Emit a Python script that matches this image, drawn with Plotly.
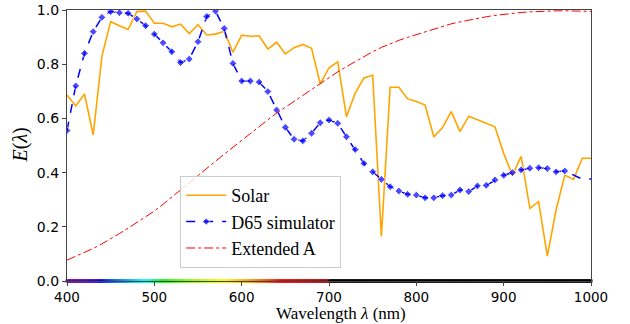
import plotly.graph_objects as go

wavelength = list(range(400, 1001, 10))

solar = [0.686, 0.646, 0.690, 0.539, 0.830, 0.957, 0.942, 0.928, 0.994, 0.996,
         0.951, 0.951, 0.938, 0.948, 0.913, 0.946, 0.908, 0.911, 0.922, 0.844,
         0.907, 0.903, 0.905, 0.856, 0.881, 0.838, 0.861, 0.873, 0.859, 0.727,
         0.787, 0.809, 0.606, 0.693, 0.749, 0.759, 0.164, 0.715, 0.715, 0.672,
         0.662, 0.649, 0.532, 0.566, 0.625, 0.551, 0.608, 0.595, 0.580, 0.569,
         0.471, 0.390, 0.460, 0.268, 0.293, 0.092, 0.262, 0.391, 0.375, 0.453,
         0.453]

d65_sim = [0.555, 0.720, 0.840, 0.920, 0.973, 0.994, 0.990, 0.988, 0.967, 0.942,
           0.911, 0.879, 0.846, 0.806, 0.819, 0.883, 0.976, 0.996, 0.932, 0.803,
           0.738, 0.738, 0.734, 0.699, 0.631, 0.567, 0.523, 0.517, 0.545, 0.584,
           0.594, 0.582, 0.532, 0.485, 0.434, 0.403, 0.375, 0.348, 0.332, 0.320,
           0.317, 0.307, 0.307, 0.315, 0.317, 0.336, 0.330, 0.351, 0.353, 0.373,
           0.390, 0.400, 0.410, 0.416, 0.418, 0.415, 0.403, 0.406, 0.390, 0.376,
           0.376]

ext_a = [0.077, 0.091, 0.105, 0.120, 0.137, 0.155, 0.175, 0.195, 0.215, 0.235,
         0.258, 0.283, 0.310, 0.336, 0.362, 0.388, 0.415, 0.442, 0.468, 0.494,
         0.520, 0.546, 0.571, 0.595, 0.619, 0.641, 0.661, 0.682, 0.705, 0.727,
         0.750, 0.772, 0.791, 0.810, 0.828, 0.846, 0.862, 0.876, 0.888, 0.899,
         0.909, 0.920, 0.931, 0.941, 0.949, 0.956, 0.963, 0.969, 0.975, 0.980,
         0.984, 0.988, 0.991, 0.993, 0.995, 0.996, 0.997, 0.997, 0.997, 0.996,
         0.995]

x_ticks = [400, 500, 600, 700, 800, 900, 1000]
y_ticks = [0.0, 0.2, 0.4, 0.6, 0.8, 1.0]


def wl_to_rgb(wl, gamma=0.8):
    if wl < 380 or wl > 750:
        return "rgb(0,0,0)"
    if wl < 440:
        att = 0.3 + 0.7 * (wl - 380) / 60
        r, g, b = ((-(wl - 440) / 60) * att) ** gamma, 0.0, att ** gamma
    elif wl < 490:
        r, g, b = 0.0, ((wl - 440) / 50) ** gamma, 1.0
    elif wl < 510:
        r, g, b = 0.0, 1.0, (-(wl - 510) / 20) ** gamma
    elif wl < 580:
        r, g, b = ((wl - 510) / 70) ** gamma, 1.0, 0.0
    elif wl < 645:
        r, g, b = 1.0, (-(wl - 645) / 65) ** gamma, 0.0
    else:
        att = 0.3 + 0.7 * (750 - wl) / 105
        r, g, b = att ** gamma, 0.0, 0.0
    return f"rgb({int(r*255)},{int(g*255)},{int(b*255)})"


spec_x = list(range(400, 1001, 1))
spec_c = [wl_to_rgb(w) if w <= 700 else "rgb(0,0,0)" for w in spec_x]

serif = "Liberation Serif, Times New Roman, serif"
sans = "DejaVu Sans, sans-serif"

fig = go.Figure()

fig.add_trace(go.Scatter(
    x=wavelength, y=solar, mode="lines", name="Solar",
    line=dict(color="#FFA500", width=1.6)))

marker_sizes = [6 if w <= 970 else 0 for w in wavelength]
fig.add_trace(go.Scatter(
    x=wavelength, y=d65_sim, mode="lines+markers", name="D65 simulator",
    line=dict(color="#0000FF", width=1.5, dash="dash"),
    marker=dict(symbol="diamond", size=marker_sizes, color="#0000FF")))

fig.add_trace(go.Scatter(
    x=wavelength, y=ext_a, mode="lines", name="Extended A",
    line=dict(color="#FF0000", width=1, dash="dashdot")))

fig.add_trace(go.Scatter(
    x=spec_x, y=[0] * len(spec_x), mode="markers", showlegend=False,
    hoverinfo="skip", cliponaxis=False,
    marker=dict(symbol="square", size=3, color=spec_c, line=dict(width=0))))

fig.update_layout(
    width=630, height=324,
    margin=dict(l=67, r=39, t=10, b=43, autoexpand=False),
    paper_bgcolor="white", plot_bgcolor="white",
    showlegend=True,
    legend=dict(
        x=0.216, y=0.048, xanchor="left", yanchor="bottom",
        bgcolor="rgba(255,255,255,0.8)", bordercolor="#CCCCCC", borderwidth=1,
        font=dict(family=serif, size=18, color="black"),
        tracegroupgap=0, itemwidth=40,
    ),
    annotations=[
        dict(text="Wavelength <i>λ</i> (nm)", xref="paper", yref="paper",
             x=0.522, y=0, yshift=-32, xanchor="center", yanchor="middle",
             showarrow=False, font=dict(family=serif, size=17, color="black")),
        dict(text="<i>E</i>(<i>λ</i>)", xref="paper", yref="paper",
             x=0, y=0.5, xshift=-47, xanchor="center", yanchor="middle",
             textangle=-90, showarrow=False,
             font=dict(family=serif, size=20, color="black")),
    ],
)

fig.update_xaxes(
    range=[400, 1000], tickvals=x_ticks, ticks="outside", ticklen=4,
    showline=True, linecolor="#444444", linewidth=1.3, mirror=True,
    showgrid=False, zeroline=False, automargin=False,
    tickfont=dict(family=sans, size=13.5, color="black"),
)
fig.update_yaxes(
    range=[0, 1.0], tickvals=y_ticks, tickformat=".1f", ticks="outside", ticklen=4,
    showline=True, linecolor="#444444", linewidth=1.3, mirror=True,
    showgrid=False, zeroline=False, automargin=False,
    tickfont=dict(family=sans, size=14, color="black"),
)

fig.write_html("out.html", config={"displayModeBar": False},
               post_script="document.body.style.margin='0';")
